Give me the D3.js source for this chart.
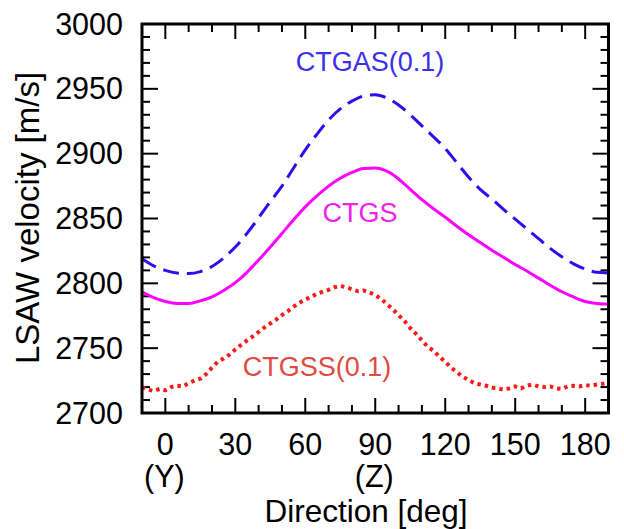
<!DOCTYPE html>
<html><head><meta charset="utf-8">
<script src="https://cdn.jsdelivr.net/npm/d3@7"></script>
<style>body{margin:0;background:#fff}svg{display:block}text{font-family:"Liberation Sans",Arial,sans-serif}</style>
</head><body>
<script>
const angles5 = d3.range(-10, 190.01, 5);
const ctgas = [2819,2813.5,2810,2808,2807.5,2809,2813,2819.5,2828,2838.5,2850.5,2863,2875,2889,2903,2915,2926,2934.5,2940.5,2944.5,2945.5,2943,2937.5,2930,2921.5,2913,2904,2893,2882,2872.5,2865,2857,2849.5,2842,2834.5,2827,2820.5,2815,2811,2808.5,2808];
const ctgs = [2793.5,2789,2786,2784.5,2784.5,2786.5,2789.5,2794.5,2800.5,2808.5,2818,2828,2838.5,2849,2859,2867.5,2875,2881,2885.5,2888.5,2889,2886.5,2880.5,2872.5,2864.5,2857.5,2851,2844,2837.5,2831.5,2825.5,2820,2814.5,2809.5,2804,2798.5,2793.5,2789.5,2786,2784.5,2784];
const angles25 = d3.range(-10, 190.01, 2.5);
const ctgss = [2720,2718,2717,2718.5,2717.5,2720,2721,2720.5,2723,2725,2726.5,2730,2735,2739.5,2742,2745,2749,2752.5,2756,2759,2762.5,2766,2769,2772,2775.5,2778.5,2782,2785,2787.5,2789.5,2792,2793.5,2795,2797,2798,2797,2795.5,2794,2794.5,2793,2791,2788,2784,2780,2775.5,2771,2765.5,2761,2756,2751,2748,2743.5,2739.5,2735,2731.5,2728,2725.5,2723,2722,2721,2719.5,2719,2718,2719,2720.5,2719,2721,2722,2720.5,2720,2720.5,2719,2718.5,2720.5,2721,2720.5,2721.5,2721,2722,2722.5,2723.5];
const xTicks = [0,30,60,90,120,150,180];
const xSub = {0:"(Y)",90:"(Z)"};
const yTicks = [2700,2750,2800,2850,2900,2950,3000];
const seriesLabels = [
  {text:"CTGAS(0.1)", color:"#3a30ee"},
  {text:"CTGS", color:"#ee22ee"},
  {text:"CTGSS(0.1)", color:"#e04a40"}
];

const W=624,H=529, L=142,R=608.5,T=24,B=413;
const svg=d3.select("body").append("svg").attr("width",W).attr("height",H);
const x=d3.scaleLinear().domain([-10,190]).range([L,R]);
const y=d3.scaleLinear().domain([2700,3000]).range([B,T]);

const g=svg.append("g");
const minorX=d3.range(0,190,10), minorY=d3.range(2700,3001,10);
minorX.forEach(v=>{
  const maj=v%30===0, len=maj?15:8;
  g.append("line").attr("x1",x(v)).attr("x2",x(v)).attr("y1",B).attr("y2",B-len).attr("stroke","#000").attr("stroke-width",2);
  g.append("line").attr("x1",x(v)).attr("x2",x(v)).attr("y1",T).attr("y2",T+len).attr("stroke","#000").attr("stroke-width",2);
});
minorY.forEach(v=>{
  const maj=v%50===0, len=maj?16:8;
  g.append("line").attr("y1",y(v)).attr("y2",y(v)).attr("x1",L).attr("x2",L+len).attr("stroke","#000").attr("stroke-width",2);
  g.append("line").attr("y1",y(v)).attr("y2",y(v)).attr("x1",R).attr("x2",R-len).attr("stroke","#000").attr("stroke-width",2);
});

yTicks.forEach(v=>{
  svg.append("text").attr("x",123).attr("y",y(v)+10.5).attr("text-anchor","end").attr("font-size",30.5).text(v);
});
xTicks.forEach(v=>{
  svg.append("text").attr("x",x(v)).attr("y",455).attr("text-anchor","middle").attr("font-size",30.5).text(v);
  if(xSub[v]) svg.append("text").attr("x",x(v)-1).attr("y",487).attr("text-anchor","middle").attr("font-size",30.5).text(xSub[v]);
});
svg.append("text").attr("x",366).attr("y",522).attr("text-anchor","middle").attr("font-size",31.5).text("Direction [deg]");
svg.append("text").attr("transform","translate(39,218) rotate(-90)").attr("text-anchor","middle").attr("font-size",33).text("LSAW velocity [m/s]");

svg.append("clipPath").attr("id","c").append("rect").attr("x",L).attr("y",T).attr("width",R-L).attr("height",B-T);
const line=d3.line().x(d=>x(d[0])).y(d=>y(d[1])).curve(d3.curveMonotoneX);
const pg=svg.append("g").attr("clip-path","url(#c)");
pg.append("path").attr("d",line(angles5.map((a,i)=>[a,ctgas[i]]))).attr("fill","none").attr("stroke","#2a10ee").attr("stroke-width",3).attr("stroke-dasharray","16,8");
pg.append("path").attr("d",line(angles5.map((a,i)=>[a,ctgs[i]]))).attr("fill","none").attr("stroke","#ff00ff").attr("stroke-width",3);
pg.append("path").attr("d",d3.line().x(d=>x(d[0])).y(d=>y(d[1]))(angles25.map((a,i)=>[a,ctgss[i]]))).attr("fill","none").attr("stroke","#ff1a1a").attr("stroke-width",4).attr("stroke-dasharray","3.5,4");

svg.append("rect").attr("x",L).attr("y",T).attr("width",R-L).attr("height",B-T).attr("fill","none").attr("stroke","#000").attr("stroke-width",3);

const pos=[[370,71],[360,222],[317,376]];
seriesLabels.forEach((s,i)=>{
  svg.append("text").attr("x",pos[i][0]).attr("y",pos[i][1]).attr("text-anchor","middle").attr("font-size",27).attr("fill",s.color).text(s.text);
});
</script>
</body></html>
